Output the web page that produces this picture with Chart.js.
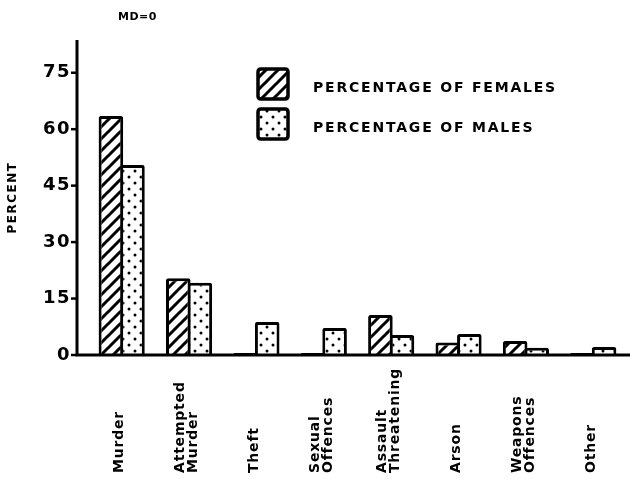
<!DOCTYPE html>
<html><head><meta charset="utf-8">
<script src="https://cdn.jsdelivr.net/npm/chart.js@4"></script>
<style>html,body{margin:0;padding:0;background:#fff;}canvas{display:block;}</style>
</head><body>
<canvas id="c" width="630" height="479"></canvas>
<script>
const categories = [['Murder'], ['Attempted', 'Murder'], ['Theft'], ['Sexual', 'Offences'], ['Assault', 'Threatening'], ['Arson'], ['Weapons', 'Offences'], ['Other']];
const femaleLabel = 'PERCENTAGE OF FEMALES';
const maleLabel = 'PERCENTAGE OF MALES';
const femaleValues = [63.5, 20.4, 0.5, 0.5, 10.6, 3.3, 3.7, 0.5];
const maleValues = [50.5, 19.2, 8.8, 7.2, 5.3, 5.6, 1.9, 2.1];
const yTicks = [0, 15, 30, 45, 60, 75];
const yMax = 83.7;
const noteText = 'MD=0';
const yTitle = 'PERCENT';

const canvas = document.getElementById('c');
const mainCtx = canvas.getContext('2d');

function hatchPattern() {
  const s = 12;
  const t = document.createElement('canvas'); t.width = s; t.height = s;
  const g = t.getContext('2d');
  g.fillStyle = '#fff'; g.fillRect(0, 0, s, s);
  g.strokeStyle = '#000'; g.lineWidth = 3;
  g.beginPath();
  g.moveTo(-2, s + 2); g.lineTo(s + 2, -2);
  g.moveTo(-2, 2); g.lineTo(2, -2);
  g.moveTo(s - 2, s + 2); g.lineTo(s + 2, s - 2);
  g.stroke();
  return mainCtx.createPattern(t, 'repeat');
}
function dotPattern() {
  const s = 12;
  const t = document.createElement('canvas'); t.width = s; t.height = s;
  const g = t.getContext('2d');
  g.fillStyle = '#fff'; g.fillRect(0, 0, s, s);
  g.fillStyle = '#000';
  [[3, 3], [9, 9]].forEach(([x, y]) => { g.beginPath(); g.arc(x, y, 1.5, 0, Math.PI * 2); g.fill(); });
  return mainCtx.createPattern(t, 'repeat');
}

const hatch = hatchPattern();
const dots = dotPattern();

function roundRectPath(ctx, x, y, w, h, r) {
  ctx.beginPath();
  ctx.moveTo(x + r, y);
  ctx.lineTo(x + w - r, y); ctx.quadraticCurveTo(x + w, y, x + w, y + r);
  ctx.lineTo(x + w, y + h - r); ctx.quadraticCurveTo(x + w, y + h, x + w - r, y + h);
  ctx.lineTo(x + r, y + h); ctx.quadraticCurveTo(x, y + h, x, y + h - r);
  ctx.lineTo(x, y + r); ctx.quadraticCurveTo(x, y, x + r, y);
  ctx.closePath();
}

const decor = {
  id: 'decor',
  beforeDraw(chart) {
    chart.ctx.letterSpacing = '1.5px';
  },
  afterDraw(chart) {
    const ctx = chart.ctx;
    ctx.save();
    ctx.letterSpacing = '0px';
    const ys = chart.scales.y, xs = chart.scales.x, ca = chart.chartArea;
    const y0 = ys.getPixelForValue(0);
    const axX = ca.left - 11;
    ctx.strokeStyle = '#000';
    ctx.lineWidth = 3;
    ctx.beginPath();
    ctx.moveTo(axX, ca.top); ctx.lineTo(axX, y0); ctx.lineTo(chart.width, y0);
    ctx.stroke();
    ctx.lineWidth = 2.5;
    ys.ticks.forEach(t => {
      const y = ys.getPixelForValue(t.value);
      ctx.beginPath(); ctx.moveTo(axX - 6, y); ctx.lineTo(axX, y); ctx.stroke();
    });

    // category labels, rotated, aligned at bottom
    ctx.fillStyle = '#000';
    ctx.font = 'bold 14px "DejaVu Sans"';
    ctx.letterSpacing = '0.8px';
    ctx.textAlign = 'left';
    ctx.textBaseline = 'middle';
    const catW = xs.width / chart.data.labels.length;
    chart.data.labels.forEach((lab, i) => {
      const lines = Array.isArray(lab) ? lab : [lab];
      const cx = xs.getPixelForValue(i) - 0.03 * catW;
      const lh = 13;
      lines.forEach((ln, j) => {
        const x = cx + (j - (lines.length - 1) / 2) * lh;
        ctx.save(); ctx.translate(x, 473); ctx.rotate(-Math.PI / 2); ctx.fillText(ln, 0, 0); ctx.restore();
      });
    });

    // legend
    chart.data.datasets.forEach((ds, i) => {
      const bx = 258, by = 69 + i * 40, bw = 30, bh = 30;
      roundRectPath(ctx, bx, by, bw, bh, 3);
      ctx.fillStyle = ds.backgroundColor; ctx.fill();
      ctx.lineWidth = 3.5; ctx.strokeStyle = '#000'; ctx.stroke();
      ctx.fillStyle = '#000';
      ctx.font = 'bold 14px "DejaVu Sans"';
      ctx.letterSpacing = '1.8px';
      ctx.textAlign = 'left'; ctx.textBaseline = 'middle';
      ctx.fillText(ds.label, 313, by + bh / 2 + 4);
    });

    // note
    ctx.font = 'bold 11px "DejaVu Sans"';
    ctx.letterSpacing = '0.5px';
    ctx.fillText(noteText, 118, 17);
    ctx.restore();
  }
};

new Chart(canvas, {
  type: 'bar',
  data: {
    labels: categories,
    datasets: [
      { label: femaleLabel, data: femaleValues, backgroundColor: hatch, borderColor: '#000', borderWidth: 3, borderRadius: 2, borderSkipped: 'start', categoryPercentage: 0.64, barPercentage: 1.14 },
      { label: maleLabel, data: maleValues, backgroundColor: dots, borderColor: '#000', borderWidth: 3, borderRadius: 2, borderSkipped: 'start', categoryPercentage: 0.64, barPercentage: 1.14 }
    ]
  },
  options: {
    responsive: false,
    animation: false,
    devicePixelRatio: 1,
    layout: { padding: { left: 0, right: 3, top: 40, bottom: 0 } },
    plugins: { legend: { display: false }, title: { display: false }, tooltip: { enabled: false } },
    scales: {
      x: {
        grid: { display: false, drawTicks: false },
        border: { display: false },
        ticks: { display: false },
        afterFit(s) { s.height = 124; }
      },
      y: {
        min: 0, max: yMax,
        grid: { display: false, drawTicks: false },
        border: { display: false },
        afterBuildTicks(s) { s.ticks = yTicks.map(v => ({ value: v })); },
        afterFit(s) { s.width = 88; },
        ticks: { color: '#000', padding: 17, font: { family: 'DejaVu Sans', weight: 'bold', size: 18 } },
        title: { display: true, text: yTitle, color: '#000', padding: { top: 6, bottom: 0 }, font: { family: 'DejaVu Sans', weight: 'bold', size: 12 } }
      }
    }
  },
  plugins: [decor]
});
</script>
</body></html>
